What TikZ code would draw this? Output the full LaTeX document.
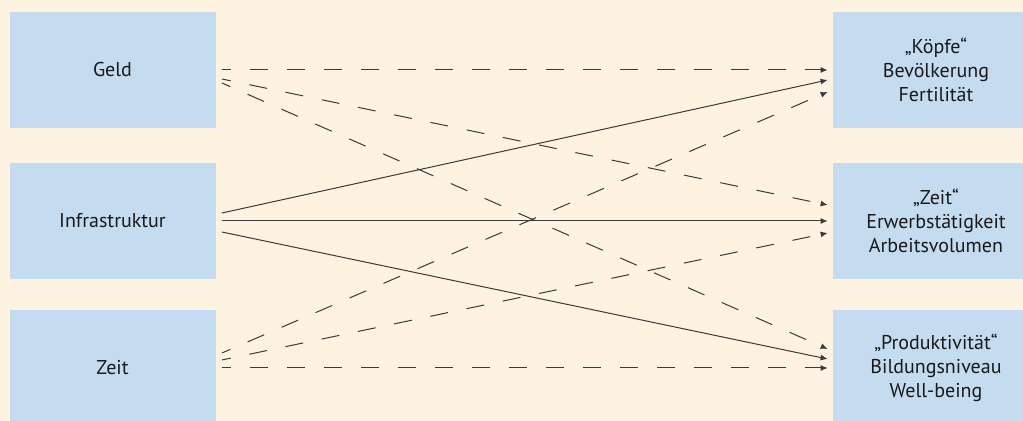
\documentclass[tikz,border=0pt]{standalone}
\usepackage{fontspec}
\setmainfont{PT Sans}
\usepackage{tikz}
\usetikzlibrary{arrows.meta,positioning,calc}

\definecolor{bgcream}{HTML}{FDF3E0}
\definecolor{boxblue}{HTML}{C5DCF0}
\definecolor{linegray}{HTML}{3A3A3A}

\tikzset{
  factor/.style={rectangle,fill=boxblue,minimum width=103pt,minimum height=58pt,
    inner sep=0pt,align=center,font=\fontsize{10}{12}\selectfont,text=black!90},
  link/.style={-{Latex[length=3.5pt,width=3pt]},linegray,line width=0.5pt},
  dlink/.style={link,dash pattern=on 9pt off 9.5pt,dash phase=4.5pt}
}

\begin{document}
\begin{tikzpicture}[x=0.5pt,y=-0.5pt]
  \fill[bgcream] (0,0) rectangle (1023,421);
  \useasboundingbox (0,0) rectangle (1023,421);
  % left column
  \node[factor] (geld) at (112.5,70) {Geld};
  \node[factor] (infra) at (112.5,221) {Infrastruktur};
  \node[factor] (zeitl) at (112.5,368) {Zeit};
  % right column
  \node[factor] (koepfe) at (936,70) {„Köpfe“\\Bevölkerung\\Fertilität};
  \node[factor] (zeitr) at (936,221) {„Zeit“\\Erwerbstätigkeit\\Arbeitsvolumen};
  \node[factor] (prod) at (936,368) {„Produktivität“\\Bildungsniveau\\Well-being};
  % Geld
  \draw[dlink] ($(geld.east)+(6,0)$) -- ($(koepfe.west)+(-5,0)$);
  \draw[dlink] ($(geld.east)+(6,9)$) -- ($(zeitr.west)+(-5,-16)$);
  \draw[dlink] ($(geld.east)+(6,13)$) -- ($(prod.west)+(-5,-19)$);
  % Infrastruktur
  \draw[link] ($(infra.east)+(6,-8)$) -- ($(koepfe.west)+(-5,10)$);
  \draw[link] ($(infra.east)+(6,0)$) -- ($(zeitr.west)+(-5,0)$);
  \draw[link] ($(infra.east)+(6,11)$) -- ($(prod.west)+(-5,-9)$);
  % Zeit
  \draw[dlink] ($(zeitl.east)+(6,-15)$) -- ($(koepfe.west)+(-5,22)$);
  \draw[dlink] ($(zeitl.east)+(6,-8)$) -- ($(zeitr.west)+(-5,12)$);
  \draw[dlink] ($(zeitl.east)+(6,0)$) -- ($(prod.west)+(-5,0)$);
\end{tikzpicture}
\end{document}
